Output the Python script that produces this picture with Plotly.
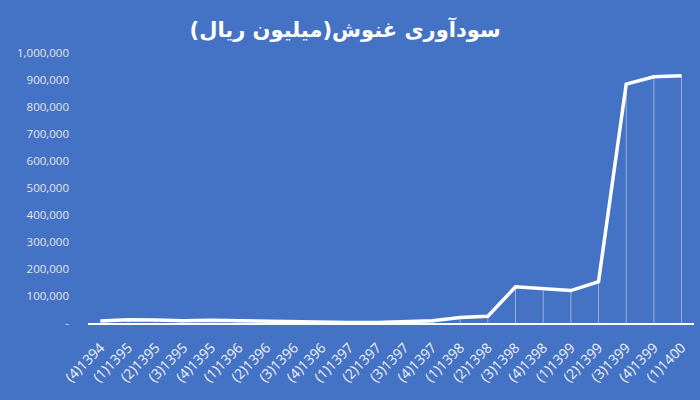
import plotly.graph_objects as go

categories = ["(4)1394", "(1)1395", "(2)1395", "(3)1395", "(4)1395",
              "(1)1396", "(2)1396", "(3)1396", "(4)1396",
              "(1)1397", "(2)1397", "(3)1397", "(4)1397",
              "(1)1398", "(2)1398", "(3)1398", "(4)1398",
              "(1)1399", "(2)1399", "(3)1399", "(4)1399", "(1)1400"]
values = [7000, 12000, 11000, 8000, 10000,
          8000, 7000, 7000, 3000,
          2000, 2000, 4000, 8000,
          20000, 25000, 134000, 128000,
          120000, 153000, 885000, 912000, 916000]

y_tickvals = [0, 100000, 200000, 300000, 400000, 500000, 600000, 700000, 800000, 900000, 1000000]
y_ticktext = ["-", "100,000", "200,000", "300,000", "400,000", "500,000", "600,000",
              "700,000", "800,000", "900,000", "1,000,000"]

title_text = "سودآوری غنوش(میلیون ریال)"

bg = "#4472C4"
x_idx = list(range(len(categories)))

fig = go.Figure()
fig.add_trace(go.Scatter(
    x=x_idx, y=values, mode="lines",
    line=dict(color="white", width=3.5),
    error_y=dict(type="data", symmetric=False, array=[0] * len(values),
                 arrayminus=values, color="rgba(255,255,255,0.45)",
                 thickness=1, width=0),
    hoverinfo="skip", showlegend=False,
))

fig.update_layout(
    width=700, height=400,
    paper_bgcolor=bg, plot_bgcolor=bg,
    margin=dict(l=88, r=6, t=53, b=77, autoexpand=False),
    title=dict(text="<b>" + title_text + "</b>", x=0.493, xanchor="center",
               y=0.925, yanchor="middle",
               font=dict(family="DejaVu Sans", size=21, color="white")),
    xaxis=dict(
        range=[-0.45, len(categories) - 1 + 0.45],
        tickvals=x_idx, ticktext=categories,
        tickangle=-45, showgrid=False, zeroline=False,
        showline=True, linecolor="white", linewidth=2,
        ticks="", automargin=False, ticklabelstandoff=9,
        tickfont=dict(family="Open Sans", size=14, color="#F2F2F2"),
        fixedrange=True,
    ),
    yaxis=dict(
        range=[0, 1000000], tickvals=y_tickvals, ticktext=y_ticktext,
        showgrid=False, zeroline=False, showline=False, ticks="",
        ticklabelstandoff=18, automargin=False,
        tickfont=dict(family="Open Sans", size=11.5, color="#E6E6E6"),
        fixedrange=True,
    ),
)

fig.write_html("out.html", config={"displayModeBar": False},
               post_script="document.body.style.margin='0';document.body.style.overflow='hidden';")
